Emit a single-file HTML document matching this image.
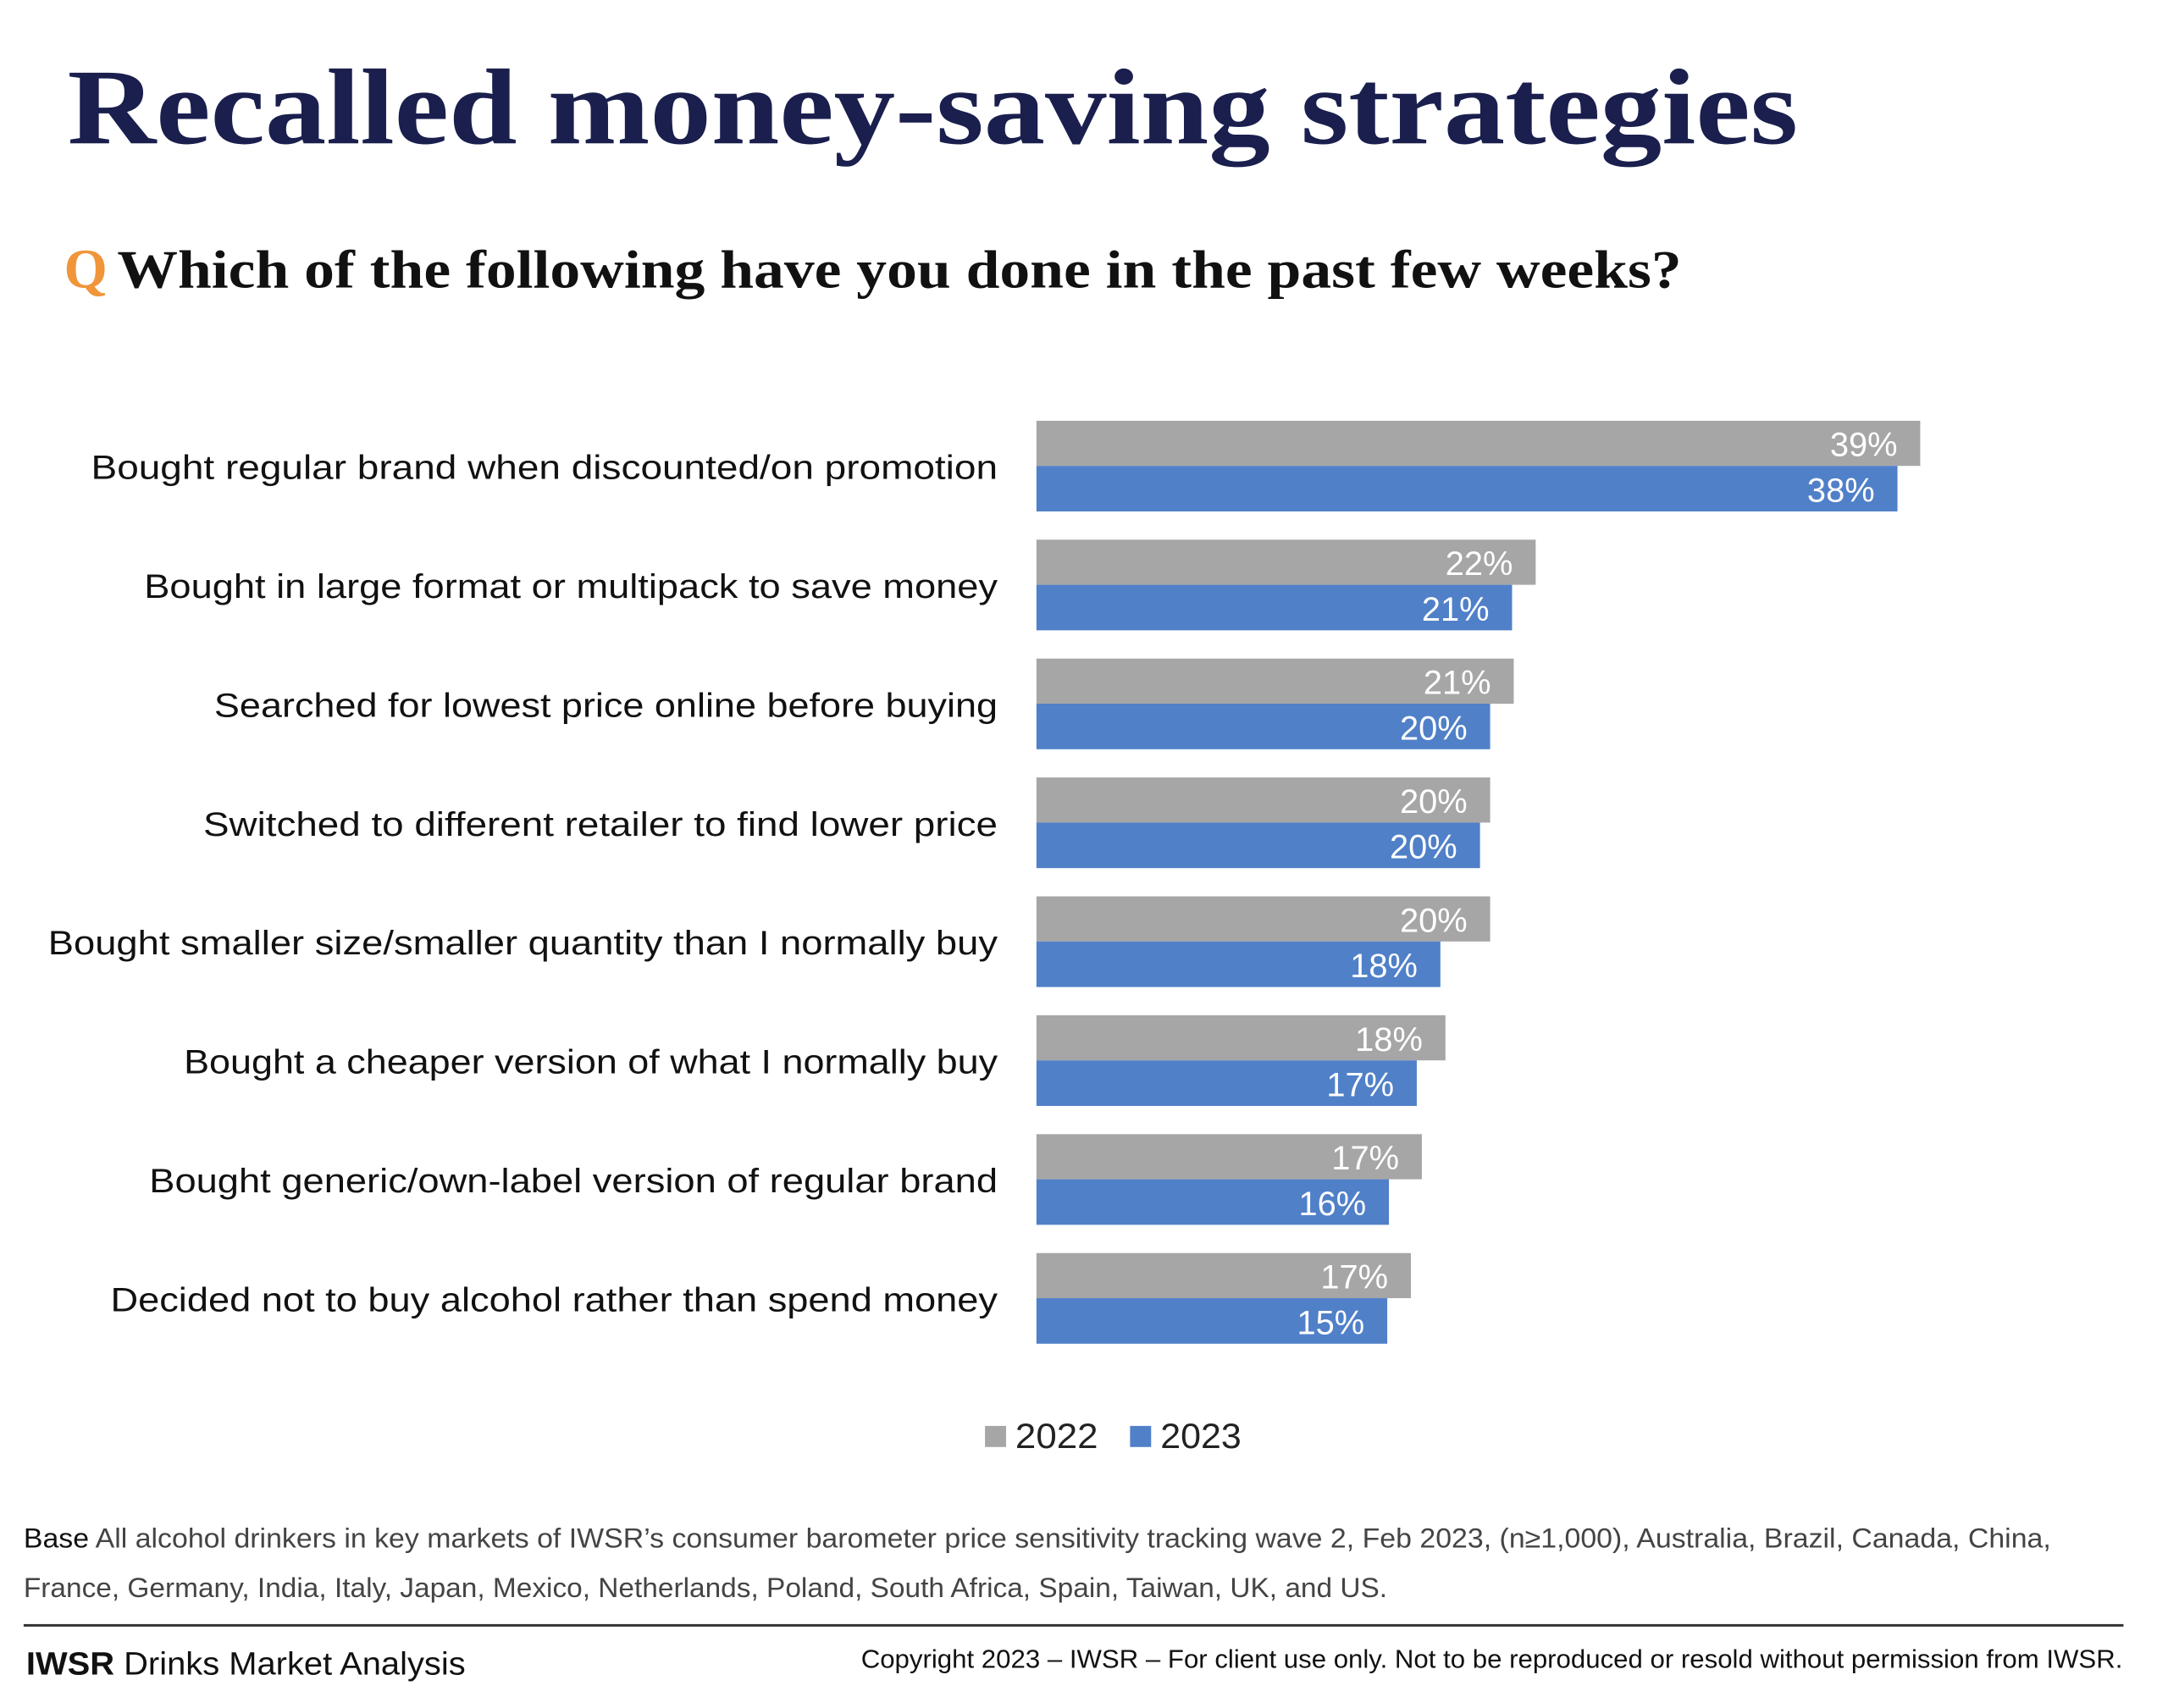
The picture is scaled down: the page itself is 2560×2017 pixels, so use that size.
<!DOCTYPE html>
<html><head><meta charset="utf-8"><style>html,body{margin:0;padding:0;background:#fff}svg{display:block}</style></head>
<body>
<svg width="2560" height="2017" viewBox="0 0 2560 2017" xmlns="http://www.w3.org/2000/svg">
<rect width="2560" height="2017" fill="#fff"/>
<g transform="scale(0.9958)">
<text x="80" y="170" font-family="Liberation Serif, serif" font-weight="bold" font-size="128" fill="#1a1f4e" textLength="2052" lengthAdjust="spacingAndGlyphs">Recalled money-saving strategies</text>
<text x="76" y="341" font-family="Liberation Serif, serif" font-weight="bold" font-size="66" fill="#f0953a">Q</text>
<text x="139" y="341" font-family="Liberation Serif, serif" font-weight="bold" font-size="64" fill="#111" textLength="1855" lengthAdjust="spacingAndGlyphs">Which of the following have you done in the past few weeks?</text>
<g transform="translate(5,3)">
<g font-family="Liberation Sans, sans-serif" font-size="40" fill="#111" text-anchor="end">
<text x="1178" y="565" textLength="1075" lengthAdjust="spacingAndGlyphs">Bought regular brand when discounted/on promotion</text>
<text x="1178" y="706" textLength="1012" lengthAdjust="spacingAndGlyphs">Bought in large format or multipack to save money</text>
<text x="1178" y="847" textLength="929" lengthAdjust="spacingAndGlyphs">Searched for lowest price online before buying</text>
<text x="1178" y="988" textLength="942" lengthAdjust="spacingAndGlyphs">Switched to different retailer to find lower price</text>
<text x="1178" y="1129" textLength="1126" lengthAdjust="spacingAndGlyphs">Bought smaller size/smaller quantity than I normally buy</text>
<text x="1178" y="1270" textLength="965" lengthAdjust="spacingAndGlyphs">Bought a cheaper version of what I normally buy</text>
<text x="1178" y="1411" textLength="1006" lengthAdjust="spacingAndGlyphs">Bought generic/own-label version of regular brand</text>
<text x="1178" y="1552" textLength="1052" lengthAdjust="spacingAndGlyphs">Decided not to buy alcohol rather than spend money</text>
</g>
<g>
<rect x="1224" y="496" width="1048" height="53.5" fill="#a6a6a6"/><rect x="1224" y="549.5" width="1021" height="54" fill="#5080c8"/>
<rect x="1224" y="637" width="592" height="53.5" fill="#a6a6a6"/><rect x="1224" y="690.5" width="564" height="54" fill="#5080c8"/>
<rect x="1224" y="778" width="566" height="53.5" fill="#a6a6a6"/><rect x="1224" y="831.5" width="538" height="54" fill="#5080c8"/>
<rect x="1224" y="919" width="538" height="53.5" fill="#a6a6a6"/><rect x="1224" y="972.5" width="526" height="54" fill="#5080c8"/>
<rect x="1224" y="1060" width="538" height="53.5" fill="#a6a6a6"/><rect x="1224" y="1113.5" width="479" height="54" fill="#5080c8"/>
<rect x="1224" y="1201" width="485" height="53.5" fill="#a6a6a6"/><rect x="1224" y="1254.5" width="451" height="54" fill="#5080c8"/>
<rect x="1224" y="1342" width="457" height="53.5" fill="#a6a6a6"/><rect x="1224" y="1395.5" width="418" height="54" fill="#5080c8"/>
<rect x="1224" y="1483" width="444" height="53.5" fill="#a6a6a6"/><rect x="1224" y="1536.5" width="416" height="54" fill="#5080c8"/>
</g>
<g font-family="Liberation Sans, sans-serif" font-size="40" fill="#fff" text-anchor="end">
<text x="2245" y="538">39%</text><text x="2218" y="592">38%</text>
<text x="1789" y="679">22%</text><text x="1761" y="733">21%</text>
<text x="1763" y="820">21%</text><text x="1735" y="874">20%</text>
<text x="1735" y="961">20%</text><text x="1723" y="1015">20%</text>
<text x="1735" y="1102">20%</text><text x="1676" y="1156">18%</text>
<text x="1682" y="1243">18%</text><text x="1648" y="1297">17%</text>
<text x="1654" y="1384">17%</text><text x="1615" y="1438">16%</text>
<text x="1641" y="1525">17%</text><text x="1613" y="1579">15%</text>
</g>
</g>
<rect x="1168" y="1691" width="25" height="25" fill="#a6a6a6"/>
<text x="1204" y="1717" font-family="Liberation Sans, sans-serif" font-size="42" fill="#222" textLength="98" lengthAdjust="spacingAndGlyphs">2022</text>
<rect x="1340" y="1691" width="25" height="25" fill="#5080c8"/>
<text x="1376" y="1717" font-family="Liberation Sans, sans-serif" font-size="42" fill="#222" textLength="96" lengthAdjust="spacingAndGlyphs">2023</text>
<g font-family="Liberation Sans, sans-serif" font-size="33" fill="#444">
<text x="28" y="1835" textLength="2404" lengthAdjust="spacingAndGlyphs"><tspan fill="#111">Base</tspan> All alcohol drinkers in key markets of IWSR’s consumer barometer price sensitivity tracking wave 2, Feb 2023, (n≥1,000), Australia, Brazil, Canada, China,</text>
<text x="28" y="1894" textLength="1617" lengthAdjust="spacingAndGlyphs">France, Germany, India, Italy, Japan, Mexico, Netherlands, Poland, South Africa, Spain, Taiwan, UK, and US.</text>
</g>
<rect x="28" y="1926" width="2490" height="3" fill="#333"/>
<text x="31" y="1986" font-family="Liberation Sans, sans-serif" font-size="38" fill="#111" textLength="521" lengthAdjust="spacingAndGlyphs"><tspan font-weight="bold">IWSR</tspan> Drinks Market Analysis</text>
<text x="2517" y="1978" text-anchor="end" font-family="Liberation Sans, sans-serif" font-size="31" fill="#111" textLength="1496" lengthAdjust="spacingAndGlyphs">Copyright 2023 – IWSR – For client use only. Not to be reproduced or resold without permission from IWSR.</text>
</g>
</svg>
</body></html>
